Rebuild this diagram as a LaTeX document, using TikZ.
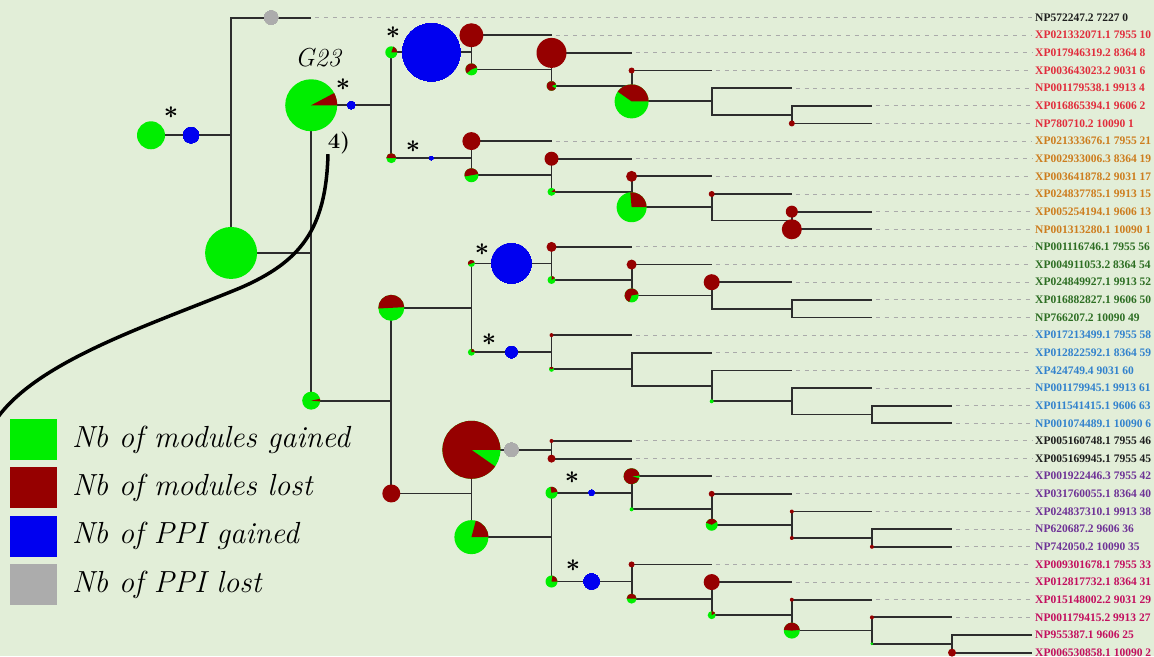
\documentclass[tikz,border=0pt]{standalone}
\usepackage{fontspec}
\newfontfamily\labelfont{Liberation Serif}
\usetikzlibrary{calc}

\definecolor{bgcol}{RGB}{226,238,216}
\definecolor{gaincol}{RGB}{0,238,0}
\definecolor{losscol}{RGB}{150,0,0}
\definecolor{ppigain}{RGB}{0,0,240}
\definecolor{ppilost}{RGB}{172,172,172}
\definecolor{treecol}{RGB}{45,45,45}
\definecolor{dashcol}{RGB}{170,170,170}
\definecolor{cBlack}{RGB}{30,30,30}
\definecolor{cRed}{RGB}{225,45,60}
\definecolor{cOrange}{RGB}{205,125,30}
\definecolor{cGreen}{RGB}{45,110,35}
\definecolor{cBlue}{RGB}{50,130,205}
\definecolor{cPurple}{RGB}{110,50,150}
\definecolor{cPink}{RGB}{195,15,95}

% level (x) and row (y) of the cladogram, in pixels
\newcommand{\lvx}[1]{151+80.1*#1}
\newcommand{\rowy}[1]{17.6+17.64*#1}
% pie at start of branch p -> c : radius, lost part from angle a to b
\newcommand{\modpie}[5]{%
  \fill[gaincol] (#1|-#2) circle (#3pt);
  \fill[losscol] (#1|-#2) -- ++(#4:#3pt) arc (#4:#5:#3pt) -- cycle;}

\tikzset{
  branch/.style={treecol, line width=1.8pt},
  dashline/.style={dashcol, line width=1pt, dash pattern=on 4pt off 4.8pt},
  leaflabel/.style={anchor=west, inner sep=0pt, font=\labelfont\bfseries\fontsize{11.5}{11.5}\selectfont},
  starmark/.style={inner sep=0pt, font=\boldmath\fontsize{26}{26}\selectfont},
  legendtext/.style={anchor=base west, inner sep=0pt, font=\itshape\fontsize{30.5}{30.5}\selectfont}
}

\begin{document}
\begin{tikzpicture}[x=1pt, y=-1pt]
    \useasboundingbox (0,0) rectangle (1154,656);
    \fill[bgcol] (0,0) rectangle (1154,656);

    % inner nodes
    \coordinate (root) at (\lvx{0},\rowy{6.671});
    \coordinate (groot) at (\lvx{1},\rowy{6.671});
    \coordinate (gG23) at (\lvx{2},\rowy{13.342});
    \coordinate (g12) at (\lvx{3},\rowy{4.96875});
    \coordinate (g1a) at (\lvx{4},\rowy{1.96875});
    \coordinate (g1b) at (\lvx{5},\rowy{2.9375});
    \coordinate (g1c) at (\lvx{6},\rowy{3.875});
    \coordinate (g1d) at (\lvx{7},\rowy{4.75});
    \coordinate (g1e) at (\lvx{8},\rowy{5.5});
    \coordinate (g2a) at (\lvx{4},\rowy{7.96875});
    \coordinate (g2b) at (\lvx{5},\rowy{8.9375});
    \coordinate (g2c) at (\lvx{6},\rowy{9.875});
    \coordinate (g2d) at (\lvx{7},\rowy{10.75});
    \coordinate (g2e) at (\lvx{8},\rowy{11.5});
    \coordinate (g37) at (\lvx{3},\rowy{21.715});
    \coordinate (g34) at (\lvx{4},\rowy{16.453});
    \coordinate (g3a) at (\lvx{5},\rowy{13.9375});
    \coordinate (g3b) at (\lvx{6},\rowy{14.875});
    \coordinate (g3c) at (\lvx{7},\rowy{15.75});
    \coordinate (g3d) at (\lvx{8},\rowy{16.5});
    \coordinate (g4a) at (\lvx{5},\rowy{18.96875});
    \coordinate (g4b) at (\lvx{6},\rowy{19.9375});
    \coordinate (g4c) at (\lvx{7},\rowy{20.875});
    \coordinate (g4d) at (\lvx{8},\rowy{21.75});
    \coordinate (g4e) at (\lvx{9},\rowy{22.5});
    \coordinate (g57) at (\lvx{4},\rowy{26.977});
    \coordinate (g5) at (\lvx{5},\rowy{24.5});
    \coordinate (g67) at (\lvx{5},\rowy{29.453});
    \coordinate (g6a) at (\lvx{6},\rowy{26.9375});
    \coordinate (g6b) at (\lvx{7},\rowy{27.875});
    \coordinate (g6c) at (\lvx{8},\rowy{28.75});
    \coordinate (g6d) at (\lvx{9},\rowy{29.5});
    \coordinate (g7a) at (\lvx{6},\rowy{31.96875});
    \coordinate (g7b) at (\lvx{7},\rowy{32.9375});
    \coordinate (g7c) at (\lvx{8},\rowy{33.875});
    \coordinate (g7d) at (\lvx{9},\rowy{34.75});
    \coordinate (g7e) at (\lvx{10},\rowy{35.5});

    % leaf tips
    \foreach \i/\k in {0/2,1/5,2/6,3/7,4/8,5/9,6/9,7/5,8/6,9/7,10/8,11/9,12/9,
        13/6,14/7,15/8,16/9,17/9,18/6,19/7,20/8,21/9,22/10,23/10,24/6,25/6,
        26/7,27/8,28/9,29/10,30/10,31/7,32/8,33/9,34/10,35/11,36/11}
        \coordinate (l\i) at (\lvx{\k},\rowy{\i});

    % leaf labels
    \foreach \i/\t/\c in {0/NP572247.2 7227 0/cBlack,
        1/XP021332071.1 7955 10/cRed, 2/XP017946319.2 8364 8/cRed,
        3/XP003643023.2 9031 6/cRed, 4/NP001179538.1 9913 4/cRed,
        5/XP016865394.1 9606 2/cRed, 6/NP780710.2 10090 1/cRed,
        7/XP021333676.1 7955 21/cOrange, 8/XP002933006.3 8364 19/cOrange,
        9/XP003641878.2 9031 17/cOrange, 10/XP024837785.1 9913 15/cOrange,
        11/XP005254194.1 9606 13/cOrange, 12/NP001313280.1 10090 1/cOrange,
        13/NP001116746.1 7955 56/cGreen, 14/XP004911053.2 8364 54/cGreen,
        15/XP024849927.1 9913 52/cGreen, 16/XP016882827.1 9606 50/cGreen,
        17/NP766207.2 10090 49/cGreen,
        18/XP017213499.1 7955 58/cBlue, 19/XP012822592.1 8364 59/cBlue,
        20/XP424749.4 9031 60/cBlue, 21/NP001179945.1 9913 61/cBlue,
        22/XP011541415.1 9606 63/cBlue, 23/NP001074489.1 10090 6/cBlue,
        24/XP005160748.1 7955 46/cBlack, 25/XP005169945.1 7955 45/cBlack,
        26/XP001922446.3 7955 42/cPurple, 27/XP031760055.1 8364 40/cPurple,
        28/XP024837310.1 9913 38/cPurple, 29/NP620687.2 9606 36/cPurple,
        30/NP742050.2 10090 35/cPurple,
        31/XP009301678.1 7955 33/cPink, 32/XP012817732.1 8364 31/cPink,
        33/XP015148002.2 9031 29/cPink, 34/NP001179415.2 9913 27/cPink,
        35/NP955387.1 9606 25/cPink, 36/XP006530858.1 10090 2/cPink}
        \node[leaflabel, text=\c] (t\i) at (1035,\rowy{\i}) {\t};

    % dashed guides
    \foreach \i in {0,...,34}
        \draw[dashline] ([xshift=4pt]l\i) -- ([xshift=-3pt]t\i.west);

    % branches
    \draw[branch] (root) -- (groot);
    \foreach \p/\c in {groot/l0, groot/gG23, gG23/g12, gG23/g37, g12/g1a, g12/g2a,
        g1a/l1, g1a/g1b, g1b/l2, g1b/g1c, g1c/l3, g1c/g1d, g1d/l4, g1d/g1e, g1e/l5, g1e/l6,
        g2a/l7, g2a/g2b, g2b/l8, g2b/g2c, g2c/l9, g2c/g2d, g2d/l10, g2d/g2e, g2e/l11, g2e/l12,
        g37/g34, g37/g57, g34/g3a, g34/g4a,
        g3a/l13, g3a/g3b, g3b/l14, g3b/g3c, g3c/l15, g3c/g3d, g3d/l16, g3d/l17,
        g4a/l18, g4a/g4b, g4b/l19, g4b/g4c, g4c/l20, g4c/g4d, g4d/l21, g4d/g4e, g4e/l22, g4e/l23,
        g57/g5, g57/g67, g5/l24, g5/l25, g67/g6a, g67/g7a,
        g6a/l26, g6a/g6b, g6b/l27, g6b/g6c, g6c/l28, g6c/g6d, g6d/l29, g6d/l30,
        g7a/l31, g7a/g7b, g7b/l32, g7b/g7c, g7c/l33, g7c/g7d, g7d/l34, g7d/g7e, g7e/l35, g7e/l36}
        \draw[branch] (\p) |- (\c);

    % modules lost only
    \foreach \p/\c/\r in {g1a/l1/12, g1b/l2/15, g1c/l3/3, g1e/l6/3, g2a/l7/9, g2b/l8/7,
        g2c/l9/5.5, g2d/l10/3, g2e/l11/6, g2e/l12/10, g37/g57/9, g3a/l13/5, g3b/l14/5,
        g3c/l15/8, g4a/l18/2, g5/l24/2, g5/l25/4, g6b/l27/3, g6c/l28/2, g6c/g6d/2,
        g6d/l30/2, g7a/l31/3, g7b/l32/8, g7c/l33/2, g7d/l34/2, g7e/l36/4}
        \fill[losscol] (\p|-\c) circle (\r pt);
    % modules gained only
    \foreach \p/\c/\r in {root/groot/14, groot/gG23/26, g4c/g4d/2, g6a/g6b/2, g7d/g7e/1.5}
        \fill[gaincol] (\p|-\c) circle (\r pt);
    % gained and lost
    \foreach \p/\c/\r/\a/\b in {gG23/g12/26/0/28, gG23/g37/9/-5/12, g12/g1a/6/0/70,
        g12/g2a/5/0/180, g1a/g1b/6/20/220, g1b/g1c/5/20/330, g1c/g1d/17/0/145,
        g2a/g2b/7/10/190, g2b/g2c/4/0/40, g2c/g2d/15/0/95, g37/g34/13/3/183,
        g34/g3a/3.5/20/200, g34/g4a/3.5/0/90, g3a/g3b/4/30/90, g3b/g3c/7/10/250,
        g4a/g4b/2.5/30/150, g57/g5/29/0/325, g57/g67/17/0/75, g67/g6a/6/10/100,
        g67/g7a/6/0/80, g6a/l26/8/5/345, g6b/g6c/6/30/160, g7a/g7b/5/0/180,
        g7b/g7c/4/30/90, g7c/g7d/8/5/175}
        \modpie{\p}{\c}{\r}{\a}{\b}
    % PPI gained / lost on the branches
    \foreach \p/\c/\r/\col in {root/groot/8/ppigain, groot/l0/7/ppilost, gG23/g12/4/ppigain,
        g12/g1a/29/ppigain, g12/g2a/2/ppigain, g34/g3a/20/ppigain, g34/g4a/6/ppigain,
        g57/g5/7/ppilost, g67/g6a/3/ppigain, g67/g7a/8/ppigain}
        \fill[\col] ($(\p|-\c)!.5!(\c)$) circle (\r pt);

    % stars
    \foreach \n/\x/\y in {1/171/113, 2/343/85, 3/393/33, 4/413/147,
        5/482/250, 6/489/340, 7/572/478, 8/573/566}
        \node[starmark] (s\n) at (\x,\y) {$\ast$};

    \node[font=\itshape\fontsize{26}{26}\selectfont, inner sep=0pt] (lblG) at (318,58) {G23};
    \node[font=\bfseries\fontsize{22}{22}\selectfont, inner sep=0pt] (lbl4) at (339,143) {4)};
    \coordinate (curveend) at (-2,417);
    \draw[line width=3.5pt] ([xshift=-11pt]lbl4.south) .. controls (326,230) and (300,262) .. (240,288)
        .. controls (150,325) and (40,360) .. (curveend);

    % legend
    \foreach \i/\col/\t in {0/gaincol/Nb of modules gained, 1/losscol/Nb of modules lost,
        2/ppigain/Nb of PPI gained, 3/ppilost/Nb of PPI lost} {
        \fill[\col] (10,419+48.4*\i) rectangle (57,460+48.4*\i);
        \node[legendtext] (leg\i) at (72,447+48.4*\i) {\t};
    }
\end{tikzpicture}
\end{document}
